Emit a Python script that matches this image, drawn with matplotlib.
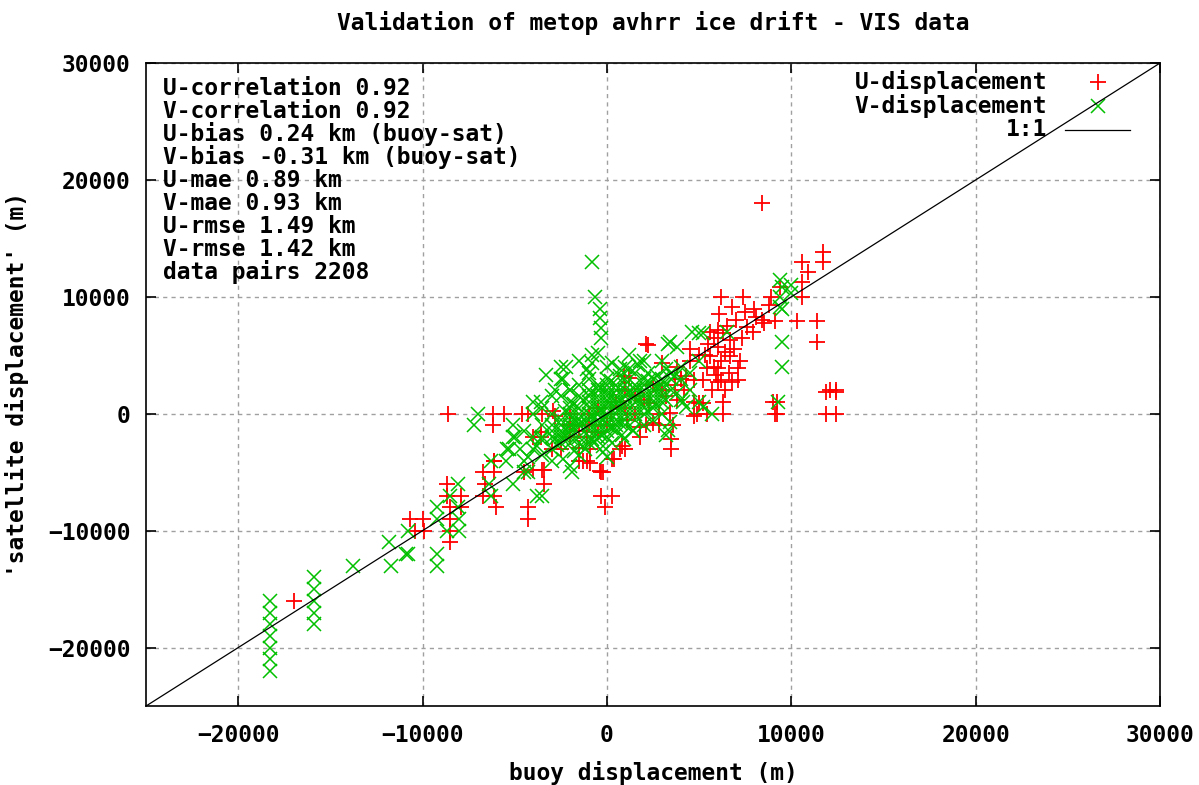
#!/usr/bin/env python3
# -*- coding: utf-8 -*-

import numpy as np
import matplotlib
matplotlib.use('Agg')
import matplotlib.pyplot as plt

# U-displacement (buoy, satellite), thousands of metres
u_buoy = [8.4, 11.7, 11.7, 10.6, 10.9, 10.6, 10.6, 6.2, 7.4, 8.9, 9.4, 8.8, 6.8, 7.5, 8.1, 8.4,
          9.1, 10.3, 11.4, 11.4, 12.1, 12.4, 11.9, 12.4, 9.2, 9.2, 6.3, 6.3, 4.9, 5.4, 5.0, 6.0,
          6.0, 6.0, 6.7, 6.7, 7.1, 7.1, 6.2, 5.4, 5.6, 5.2, 6.3, 6.4, 7.6, 8.5, 6.0, 6.8, 5.8, 5.5,
          6.5, 7.0, 8.0, 5.0, 4.7, 4.3, 3.8, 3.0, 2.2, 2.1, 3.8, 3.4, 4.7, 4.7, 2.0, 2.3, 0.9, 1.2,
          1.1, -0.5, -1.1, -1.5, -0.9, 0.3, -0.4, 2.5, 1.8, -3.6, -4.0, -4.6, -2.8, -2.9, -4.0, -3.5,
          -0.3, -0.3, 0.3, -0.1, -1.5, -1.1, -3.6, -6.1, -6.1, -6.7, -4.5, -4.3, -8.6, -6.2, -5.6, -4.3,
          -3.5, -6.2, -8.7, -8.7, -8.5, -8.5, -8.5, -7.9, -7.9, -6.6, -6.7, -6.1, -6.0, -6.1, -4.3, -3.4,
          -3.4, -10.7, -10.0, -10.4, -9.9, -8.5, -17.0, 3.5, 3.5, 1.8, 0.8, 0.4, -0.2, 1.0, 0.7, -0.9,
          -1.3, 3.6, 2.8, 2.1, 1.0, 0.5, -1.0, -2.0, -2.0, -3.0, 1.5, 2.5, 3.0, 4.0, 4.5, 1.0,
          -0.5, 0.0, -1.5, -2.5, 0.2, 1.5, 2.8, -1.0, -2.0, 9.0, 9.1, 11.9, 12.4, 5.2, 4.0, 3.2,
          5.3, 5.8, 6.2, 6.9, 7.3, 5.6, 6.6, 7.9, 4.5, 5.9, 6.1, 7.2, 5.7, 6.4, 4.2, 3.7]
u_sat = [18, 13.8, 13, 13, 12.1, 11.3, 10, 10, 10, 10, 10.8, 9.3, 9.1, 8.7, 8.3, 8,
         7.9, 7.9, 7.9, 6.1, 2, 2, 0, 0, 1, 0, 1, 0, 0, 0, 0.9, 7.2,
         5.7, 3.9, 6.3, 4.9, 3.9, 2.9, 2.9, 3.9, 4.9, 2.9, 6.9, 5.3, 7.4, 7.8, 2.7, 2.7, 6.5, 6,
         7.5, 8, 9, 5, 2.9, 3.2, 4.0, 4.3, 5.9, 6, 1.2, 0.1, 1, -0.2, 1.2, 0.9, 3.2, 3.1,
         -0.5, -1.6, -2, -2.9, -4.2, -3.9, -4.9, -0.8, -1.1, -1.6, -2, 0, -0.2, 0.2, -4.8, -4.8,
         -5, -7, -7, -8, -4, -4, -2, -4, -5, -5, -5, -8, 0, 0, 0, 0,
         0, -1, -6, -7, -8, -9, -11, -7, -8, -6, -7, -7, -8, -4, -9, -4.8,
         -6, -9, -9, -10, -10, -10, -16, -3, -2.2, -2, -2.8, -3.9, -5, -3, -3, -3,
         -4, -1, -1, -1, 0.5, 1, -1, -1, -2, -3, 1.5, 2.5, 2, 3, 4.5, 2,
         0.5, -1, -1.5, -3, 0, 0, 0, 0, 0, 1, 0, 1.9, 1.9, 0.9, 3.0, 1.5,
         5, 4, 4.5, 5.5, 6.5, 7, 3.5, 7, 5.5, 3.3, 8.5, 4.5, 2, 2, 2, 2.5]

# V-displacement (buoy, satellite), thousands of metres
v_buoy = [-18.3, -18.3, -18.3, -18.3, -18.3, -18.3, -18.3, -15.9, -15.9, -15.9, -15.9, -15.9,
          -13.8, -11.7, -11.8, -10.9, -10.8, -9.2, -9.2, -10.8, -9.2, -9.2, -8.7, -8.1, -8.0, -8.1,
          -8.5, -8.0, -6.3, -6.4, -6.3, -5.3, -5.1, -4.3, -3.8, -3.5, -7.0, -7.2, -0.8, -2.4, -2.8,
          -4.0, -5.1, -5.1, -4.7, -5.4, -1.9, -0.8, -0.65, -0.4, -0.4, -0.3, -0.3, 9.5, 9.5, 9.3,
          9.5, 10.0, 9.4, 5.2, 5.2, 5.7, 5.0, 4.1, 3.4, 3.2, 1.4, -2.5, -3.6, -0.5, -0.8, 0.3,
          1.2, 0.7, 3.3, 3.8, 4.0, 4.3, 3.3, 1.4, 0.9, 0.0, -0.2, -2.0, -2.4, -3.6, -4.3, 4.6,
          5.0, 3.4, 9.4, 10.0, 9.4, 9.5, -1.1,
          -4.0, -3.5, -3.0, -3.0, -2.5, -2.5, -2.0, -2.0, -2.0, -1.5, -1.5, -1.5, -1.0, -1.0, -1.0,
          -1.0, -0.5, -0.5, -0.5, -0.5, 0.0, 0.0, 0.0, 0.0, 0.0, 0.5, 0.5, 0.5, 0.5, 1.0, 1.0,
          1.0, 1.0, 1.5, 1.5, 1.5, 2.0, 2.0, 2.0, 2.0, 2.5, 2.5, 3.0, 3.0, 3.0, 3.5, 4.0, 4.0,
          -1.0, -2.0, -1.5, -3.0, -3.5, 1.0, 0.0, -1.0, -2.0, 2.0, 3.0, -1.2, -0.7, 0.3, -2.7,
          -4.5, -3.8, -0.3, 0.7, 1.7, 2.7, -1.7, -2.2, 0.2, -0.2, -2.2, -1.5, 1.8, 2.2, 6.5,
          -3.0, -2.5, -2.5, -2.5, -2.0, -2.0, -2.0, -2.0, -1.5, -1.5, -1.5, -1.0, -1.0, -1.0, -1.0,
          -1.0, -0.5, -0.5, -0.5, -0.5, -0.5, -0.5, 0.0, 0.0, 0.0, 0.0, 0.0, 0.5, 0.5, 0.5, 0.5,
          0.5, 1.0, 1.0, 1.0, 1.0, 1.5, 1.5, 1.5, 1.5, 2.0, 2.0, 2.0, 2.5, 2.5, 2.5, 3.0, 3.0, 3.5,
          3.5, -3.5, -4.0, -4.0, -3.0, -3.5, -2.0, -2.5, -1.5, -1.0, 0.0, 1.0, -4.5, -5.0, -5.5,
          -4.5, -3.0, -1.5, -3.0, 4.5, 5.0, 4.5, 2.0, 3.0, -3.3, -2.5, 1.5, -0.2, 0.8, 2.5, 3.8,
          -2.8, -2.3, -1.8, -1.3, -0.8, -0.3, 0.2, 0.7, 1.2, 1.7, 2.2, 2.7, 3.2, 3.7, -2.3, -1.8,
          -1.3, -0.8, -0.3, 0.2, 0.7, 1.2, 1.7, 2.2, 2.7, 3.2, -1.8, -1.3, -0.8, -0.3, 0.2, 0.7]
v_sat = [-16, -17, -18, -19, -20, -21, -22, -14, -15, -16, -17, -18,
         -13, -13, -11, -12, -10, -12, -13, -12, -8, -9, -10, -6, -10, -8,
         -7, -9, -4, -6, -7, -3, -6, -5, -7, -7, 0, -1, 5, 3, 2,
         1, -1, -2, -3, -3, -5, 13, 10, 9, 8.2, 7.3, 6.5, 6.1, 4, 1,
         10.8, 11, 9.1, 6.9, 0.6, 0, 1, 1, -0.7, -1.8, -1.5, 3, 1, 5.2, 4.3, 4.3,
         5, 3.8, 6, 5.7, 1.2, 0.6, -1.4, -1.4, -2.2, -3.7, -3.3, -4.5, -3.9, -2.2, -3.7, 7,
         6.9, 6.1, 10, 10.3, 11.4, 9, 3.8,
         -3, -3.5, -2, -3, -2, -1, -2, -1, 0, -1, -2, 0, -1, 0, 1,
         -2, -1, 0, 1, 2, 0, 1, -1, -2, 2, 0, 1, -1, 2, 0, 1,
         2, -1, 1, 2, 0, 1, 2, 3, 0, 2, 1, 2, 3, 1, 3, 3, 4,
         2, 1, 1.5, -1, -2, 3, 3, 3, 2, -1, 0, -3, -2.5, -2.5, -2.7,
         -4, -2.8, 0.3, 0.5, 1.2, 2.2, -0.6, -1.4, 1.5, -0.5, 4, 4.5, 4.5, 3.5, 7,
         -1.5, -2.5, -1.5, -0.5, -2.5, -1.5, -0.5, 0.5, -2.5, -0.5, 0.5, -2.5, -1.5, -0.5, 0.5,
         1.5, -2, -1.5, -0.5, 0.5, 1.5, 2.5, -1.5, -0.5, 0.5, 1.5, 2.5, -1.5, -0.5, 0.5, 1.5,
         2.5, -0.5, 0.5, 1.5, 2.5, -0.5, 0.5, 1.5, 2.5, 0.5, 1.5, 2.5, 0.5, 1.5, 3, 1.5, 2.5, 2,
         3.5, -1, -2, 0, 0, 0.5, 2, 1.5, 2.5, 3.5, 4, 4, -1.5, -2, -4,
         -5, -4, -3.5, 1.5, 3.5, 4.5, 2, 4.5, 4.5, 3.3, 4, 3.5, -2.8, -1.8, -0.5, 1.8,
         -2.2, -1.8, -1.2, -0.8, -0.2, 0.2, 0.8, 1.2, 1.8, 2.2, 2.8, 3.2, 3.8, 3.2, 0.2, 0.8,
         1.2, 1.8, 2.2, 2.8, 3.2, 3.8, 4.2, 0.2, 0.8, 1.2, -3.2, -2.8, -2.2, -1.8, -1.2, -0.8]

stats = ['U-correlation 0.92', 'V-correlation 0.92', 'U-bias 0.24 km (buoy-sat)',
         'V-bias -0.31 km (buoy-sat)', 'U-mae 0.89 km', 'V-mae 0.93 km',
         'U-rmse 1.49 km', 'V-rmse 1.42 km', 'data pairs 2208']

xlim = (-25000, 30000)
ylim = (-25000, 30000)
xticks = [-20000, -10000, 0, 10000, 20000, 30000]
yticks = [-20000, -10000, 0, 10000, 20000, 30000]

FONT = 'DejaVu Sans Mono'
FS = 16.5
plt.rcParams['font.family'] = FONT
plt.rcParams['font.weight'] = 'bold'

fig = plt.figure(figsize=(11.99, 7.85), dpi=100)
ax = fig.add_axes([0.1218, 0.1006, 0.8457, 0.8191])

ux = np.array(u_buoy) * 1000
uy = np.array(u_sat) * 1000
vx = np.array(v_buoy) * 1000
vy = np.array(v_sat) * 1000

ax.plot(ux, uy, '+', color='#ff0000', markersize=12, mew=1.3, zorder=3)
ax.plot(vx, vy, 'x', color='#00c000', markersize=10, mew=1.1, zorder=4)
ax.plot(xlim, ylim, '-', color='black', lw=0.9, zorder=5)

ax.set_xlim(xlim)
ax.set_ylim(ylim)
ax.set_xticks(xticks)
ax.set_yticks(yticks)
ax.set_axisbelow(True)
ax.grid(True, linestyle=(0, (3, 3)), color='#a0a0a0', linewidth=1.0)
ax.tick_params(direction='in', length=7, width=1.2, top=True, right=True,
               labelsize=FS, pad=11)
ax.tick_params(axis='x', pad=13)
for sp in ax.spines.values():
    sp.set_linewidth(1.2)

ax.set_title('Validation of metop avhrr ice drift - VIS data', fontsize=FS,
             fontweight='bold', pad=24)
ax.set_xlabel('buoy displacement (m)', fontsize=FS, fontweight='bold', labelpad=10)
ax.set_ylabel("'satellite displacement' (m)", fontsize=FS, fontweight='bold', labelpad=14)

# statistics block
for i, s in enumerate(stats):
    ax.text(0.0168, 0.961 - i * 0.0358, s, transform=ax.transAxes, fontsize=FS,
            fontweight='bold', ha='left', va='center')

# key, gnuplot style (right aligned text, sample on the right)
rows = [0.970, 0.933, 0.896]
ax.text(0.8886, rows[0], 'U-displacement', transform=ax.transAxes, fontsize=FS,
        fontweight='bold', ha='right', va='center')
ax.plot([0.939], [rows[0]], '+', color='#ff0000', markersize=12, mew=1.3,
        transform=ax.transAxes, clip_on=False)
ax.text(0.8886, rows[1], 'V-displacement', transform=ax.transAxes, fontsize=FS,
        fontweight='bold', ha='right', va='center')
ax.plot([0.939], [rows[1]], 'x', color='#00c000', markersize=10, mew=1.1,
        transform=ax.transAxes, clip_on=False)
ax.text(0.8886, rows[2], '1:1', transform=ax.transAxes, fontsize=FS,
        fontweight='bold', ha='right', va='center')
ax.plot([0.906, 0.970], [rows[2], rows[2]], '-', color='black', lw=0.9,
        transform=ax.transAxes)

fig.savefig('out.png', dpi=100)
